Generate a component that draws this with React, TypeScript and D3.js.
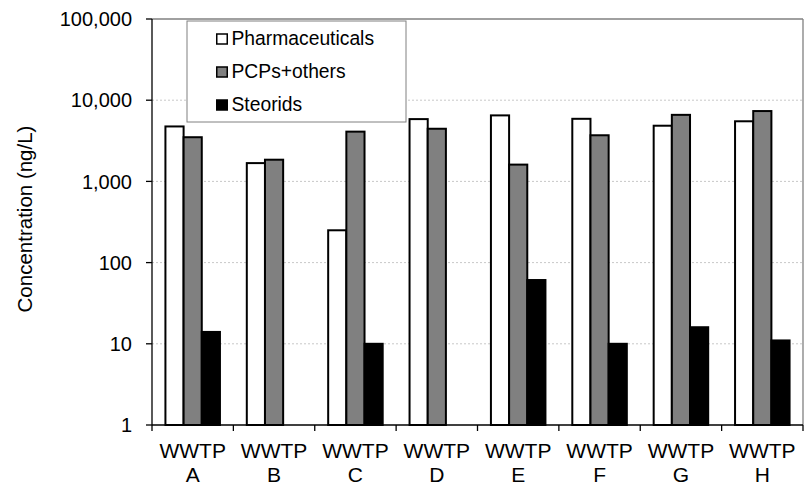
import React from "react";
import * as d3 from "d3";

const categories = ["A", "B", "C", "D", "E", "F", "G", "H"];
const seriesNames = ["Pharmaceuticals", "PCPs+others", "Steorids"];
const pharmaceuticals = [4750, 1680, 250, 5850, 6500, 5900, 4850, 5500];
const pcpsOthers = [3500, 1850, 4100, 4450, 1610, 3700, 6600, 7350];
const steroids: (number | null)[] = [14, null, 10, null, 61, 10, 16, 11];
const yTicks = [1, 10, 100, 1000, 10000, 100000];
const fills = ["#ffffff", "#808080", "#000000"];

const W = 805;
const H = 491;
const margin = { left: 152, right: 2, top: 19, bottom: 66 };

export default function App() {
  const x0 = d3
    .scaleBand<string>()
    .domain(categories)
    .range([margin.left, W - margin.right])
    .paddingInner(0.33)
    .paddingOuter(0.165);
  const x1 = d3
    .scaleBand<number>()
    .domain([0, 1, 2])
    .range([0, x0.bandwidth()]);
  const y = d3
    .scaleLog()
    .domain([1, 100000])
    .range([H - margin.bottom, margin.top]);

  const series = [pharmaceuticals, pcpsOthers, steroids];
  const fmt = d3.format(",");
  const step = (W - margin.right - margin.left) / categories.length;
  const plotBottom = y(1);
  const plotRight = W - margin.right;

  return (
    <svg
      width={W}
      height={H}
      style={{ position: "absolute", left: 0, top: 0, fontFamily: "'Liberation Sans', Arial, sans-serif" }}
    >
      <rect x={0} y={0} width={W} height={H} fill="#fff" />
      {/* gridlines */}
      {yTicks.slice(1, -1).map((t) => (
        <line
          key={t}
          x1={margin.left}
          x2={plotRight}
          y1={y(t)}
          y2={y(t)}
          stroke="#c8c8c8"
          strokeDasharray="2,2"
          strokeWidth={1}
        />
      ))}
      {/* plot frame: top and right */}
      <line x1={margin.left} x2={plotRight} y1={y(100000)} y2={y(100000)} stroke="#808080" strokeWidth={1.3} />
      <line x1={plotRight} x2={plotRight} y1={y(100000)} y2={plotBottom} stroke="#808080" strokeWidth={1.3} />

      {/* bars */}
      {categories.map((c, i) => (
        <g key={c} transform={`translate(${x0(c)},0)`}>
          {series.map((s, k) => {
            const v = s[i];
            if (v == null) return null;
            return (
              <rect
                key={k}
                x={x1(k)}
                y={y(v)}
                width={x1.bandwidth()}
                height={plotBottom - y(v)}
                fill={fills[k]}
                stroke="#000"
                strokeWidth={2}
              />
            );
          })}
        </g>
      ))}

      {/* y axis */}
      <line x1={margin.left} x2={margin.left} y1={y(100000)} y2={plotBottom} stroke="#000" strokeWidth={1.3} />
      {yTicks.map((t) => (
        <g key={t}>
          <line x1={margin.left - 6} x2={margin.left} y1={y(t)} y2={y(t)} stroke="#000" strokeWidth={1.3} />
          <text
            x={132}
            y={y(t)}
            dy="0.36em"
            textAnchor="end"
            fontSize={20}
            fill="#000"
          >
            {fmt(t)}
          </text>
        </g>
      ))}
      <text
        transform={`translate(32,${(y(100000) + plotBottom) / 2 - 3}) rotate(-90)`}
        textAnchor="middle"
        fontSize={20.5}
        fill="#000"
      >
        Concentration (ng/L)
      </text>

      {/* x axis */}
      <line x1={margin.left} x2={plotRight} y1={plotBottom} y2={plotBottom} stroke="#000" strokeWidth={1.3} />
      {d3.range(categories.length + 1).map((k) => (
        <line
          key={k}
          x1={margin.left + k * step}
          x2={margin.left + k * step}
          y1={plotBottom}
          y2={plotBottom + 6}
          stroke="#000"
          strokeWidth={1.3}
        />
      ))}
      {categories.map((c) => {
        const cx = (x0(c) as number) + x0.bandwidth() / 2;
        return (
          <g key={c}>
            <text x={cx} y={458} textAnchor="middle" fontSize={21} fill="#000">
              WWTP
            </text>
            <text x={cx} y={482} textAnchor="middle" fontSize={21} fill="#000">
              {c}
            </text>
          </g>
        );
      })}

      {/* legend */}
      <rect x={187} y={21} width={219} height={101} fill="#fff" stroke="#808080" strokeWidth={1} />
      {seriesNames.map((n, k) => (
        <g key={n} transform={`translate(216,${44.5 + k * 33})`}>
          <rect x={0.75} y={-10.5} width={10.5} height={10} fill={fills[k]} stroke="#000" strokeWidth={1.5} />
          <text x={15.5} y={0} fontSize={19.3} fill="#000">
            {n}
          </text>
        </g>
      ))}
    </svg>
  );
}
